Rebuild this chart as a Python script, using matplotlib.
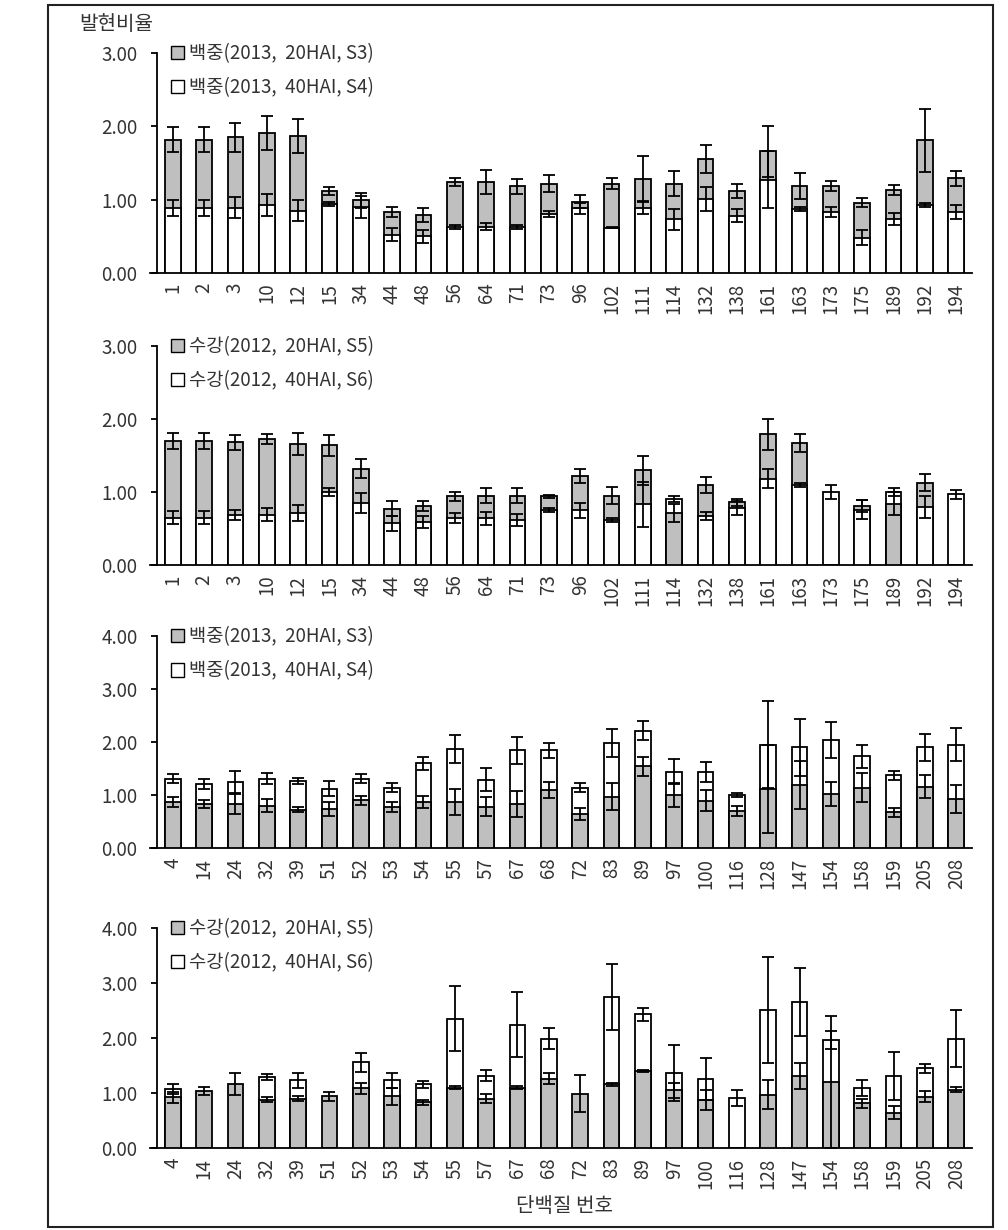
import numpy as np
import matplotlib
matplotlib.use('Agg')
import matplotlib.pyplot as plt
from matplotlib.patches import Patch, Rectangle

plt.rcParams['font.family'] = ['Noto Sans CJK KR', 'DejaVu Sans']
plt.rcParams['axes.unicode_minus'] = False

# =============================================================================
# DATI
# =============================================================================
# Pannelli 1-2: proteine sovra-espresse
cats_a = ['1', '2', '3', '10', '12', '15', '34', '44', '48', '56', '64', '71', '73',
          '96', '102', '111', '114', '132', '138', '161', '163', '173', '175', '189',
          '192', '194']
# Pannelli 3-4: proteine sotto-espresse
cats_b = ['4', '14', '24', '32', '39', '51', '52', '53', '54', '55', '57', '67', '68',
          '72', '83', '89', '97', '100', '116', '128', '147', '154', '158', '159',
          '205', '208']

# Pannello 1: 백중 2013 (S3 = 20HAI, S4 = 40HAI)
p1_s3 = [1.82, 1.82, 1.85, 1.91, 1.87, 1.12, 0.99, 0.83, 0.79, 1.24, 1.24, 1.18, 1.22,
         0.97, 1.22, 1.28, 1.22, 1.56, 1.12, 1.66, 1.19, 1.19, 0.96, 1.13, 1.81, 1.29]
p1_s3_err = [0.17, 0.17, 0.20, 0.23, 0.23, 0.05, 0.10, 0.07, 0.09, 0.05, 0.16, 0.10, 0.12,
             0.09, 0.07, 0.31, 0.17, 0.19, 0.10, 0.35, 0.18, 0.07, 0.06, 0.07, 0.43, 0.10]
p1_s4 = [0.89, 0.89, 0.89, 0.93, 0.85, 0.94, 0.90, 0.52, 0.50, 0.63, 0.63, 0.63, 0.81,
         0.88, 0.62, 0.89, 0.73, 1.01, 0.78, 1.27, 0.87, 0.83, 0.48, 0.74, 0.93, 0.83]
p1_s4_err = [0.11, 0.11, 0.14, 0.15, 0.14, 0.03, 0.15, 0.09, 0.09, 0.03, 0.05, 0.03, 0.04,
             0.08, 0.01, 0.09, 0.14, 0.16, 0.09, 0.39, 0.03, 0.07, 0.10, 0.08, 0.03, 0.10]

# Pannello 2: 수강 2012 (S5 = 20HAI, S6 = 40HAI)
p2_s5 = [1.70, 1.70, 1.68, 1.73, 1.66, 1.64, 1.32, 0.77, 0.81, 0.94, 0.95, 0.95, 0.94,
         1.22, 0.95, 1.30, 0.71, 1.10, 0.86, 1.79, 1.67, 0.0, 0.81, 0.84, 1.13, 0.0]
p2_s5_err = [0.11, 0.11, 0.10, 0.07, 0.15, 0.14, 0.13, 0.10, 0.07, 0.06, 0.10, 0.10, 0.02,
             0.10, 0.12, 0.20, 0.12, 0.11, 0.05, 0.21, 0.12, 0.0, 0.08, 0.16, 0.12, 0.0]
p2_s6 = [0.65, 0.65, 0.69, 0.69, 0.71, 1.00, 0.85, 0.57, 0.59, 0.64, 0.64, 0.62, 0.75,
         0.75, 0.62, 0.83, 0.90, 0.67, 0.78, 1.18, 1.10, 1.00, 0.76, 1.00, 0.79, 0.97]
p2_s6_err = [0.09, 0.09, 0.07, 0.09, 0.11, 0.05, 0.14, 0.10, 0.08, 0.07, 0.09, 0.08, 0.03,
             0.10, 0.03, 0.31, 0.04, 0.06, 0.09, 0.13, 0.03, 0.10, 0.13, 0.05, 0.15, 0.06]

# Pannello 3: 백중 2013
p3_s3 = [0.87, 0.83, 0.83, 0.80, 0.72, 0.74, 0.90, 0.77, 0.87, 0.87, 0.78, 0.83, 1.09,
         0.64, 0.97, 1.54, 1.00, 0.89, 0.70, 1.11, 1.19, 1.02, 1.14, 0.67, 1.16, 0.92]
p3_s3_err = [0.10, 0.08, 0.18, 0.13, 0.05, 0.13, 0.08, 0.09, 0.11, 0.25, 0.18, 0.25, 0.15,
             0.11, 0.26, 0.18, 0.23, 0.20, 0.10, 0.83, 0.46, 0.22, 0.28, 0.09, 0.21, 0.26]
p3_s4 = [1.31, 1.21, 1.24, 1.31, 1.26, 1.12, 1.31, 1.14, 1.60, 1.87, 1.29, 1.84, 1.84,
         1.14, 1.98, 2.21, 1.44, 1.44, 1.00, 1.95, 1.90, 2.04, 1.73, 1.37, 1.90, 1.95]
p3_s4_err = [0.09, 0.09, 0.21, 0.10, 0.06, 0.14, 0.08, 0.08, 0.12, 0.26, 0.22, 0.25, 0.15,
             0.09, 0.26, 0.18, 0.24, 0.19, 0.04, 0.82, 0.54, 0.34, 0.22, 0.08, 0.25, 0.31]

# Pannello 4: 수강 2012
p4_s5 = [0.92, 1.04, 1.16, 0.88, 0.90, 0.94, 1.09, 0.94, 0.83, 1.10, 0.90, 1.10, 1.26,
         0.99, 1.16, 1.40, 1.05, 0.88, 0.0, 0.97, 1.31, 1.20, 0.81, 0.64, 0.93, 1.06]
p4_s5_err = [0.10, 0.07, 0.20, 0.05, 0.05, 0.08, 0.10, 0.15, 0.05, 0.03, 0.09, 0.03, 0.10,
             0.33, 0.03, 0.01, 0.14, 0.18, 0.0, 0.26, 0.24, 1.20, 0.09, 0.12, 0.10, 0.05]
p4_s6 = [1.07, 0.0, 0.0, 1.29, 1.23, 0.0, 1.56, 1.23, 1.16, 2.35, 1.31, 2.24, 1.99,
         0.0, 2.75, 2.43, 1.37, 1.26, 0.91, 2.51, 2.66, 1.96, 1.09, 1.31, 1.45, 1.99]
p4_s6_err = [0.09, 0.0, 0.0, 0.05, 0.13, 0.0, 0.17, 0.13, 0.06, 0.59, 0.10, 0.59, 0.19,
             0.0, 0.60, 0.12, 0.51, 0.38, 0.15, 0.96, 0.62, 0.16, 0.14, 0.43, 0.08, 0.52]

labels_bj = ['백중(2013,  20HAI, S3)', '백중(2013,  40HAI, S4)']
labels_sg = ['수강(2012,  20HAI, S5)', '수강(2012,  40HAI, S6)']

GRAY = '#bfbfbf'
WHITE = '#ffffff'
TXT = '#333333'
FS = 13.5


def draw_panel(ax, cats, gray, gray_err, white, white_err, ymax, labels):
    x = np.arange(len(cats))
    g = np.array(gray)
    w = np.array(white)
    ge = np.array(gray_err)
    we = np.array(white_err)
    g_front = g <= w
    kw = dict(width=0.5, edgecolor='black', linewidth=1.3)

    # la barra più alta sta dietro, la più bassa davanti
    ax.bar(x[~g_front], g[~g_front], color=GRAY, zorder=2, **kw)
    ax.bar(x[g_front], w[g_front], color=WHITE, zorder=2, **kw)
    ax.bar(x[g_front], g[g_front], color=GRAY, zorder=3, **kw)
    ax.bar(x[~g_front], w[~g_front], color=WHITE, zorder=3, **kw)

    ek = dict(fmt='none', ecolor='black', elinewidth=1.3, capsize=4.5,
              capthick=1.3, zorder=4)
    mg = g > 0
    mw = w > 0
    ax.errorbar(x[mg], g[mg], yerr=ge[mg], **ek)
    ax.errorbar(x[mw], w[mw], yerr=we[mw], **ek)

    ax.set_xlim(-0.5, len(cats) - 0.5)
    ax.set_ylim(0, ymax)
    ax.set_yticks(np.arange(0, ymax + 0.5, 1.0))
    ax.set_yticklabels([f'{v:.2f}' for v in np.arange(0, ymax + 0.5, 1.0)])
    ax.set_xticks(x)
    ax.set_xticklabels(cats, rotation=90)

    for s in ['top', 'right']:
        ax.spines[s].set_visible(False)
    for s in ['left', 'bottom']:
        ax.spines[s].set_linewidth(1.3)
        ax.spines[s].set_color('black')
    ax.tick_params(axis='y', length=4, width=1.3, pad=10, labelsize=FS,
                   labelcolor=TXT)
    ax.tick_params(axis='x', length=0, pad=7, labelsize=FS, labelcolor=TXT)
    ax.spines['bottom'].set_bounds(-0.72, len(cats) - 0.5)

    handles = [Patch(facecolor=GRAY, edgecolor='black', linewidth=1.0),
               Patch(facecolor=WHITE, edgecolor='black', linewidth=1.0)]
    ax.legend(handles, labels, loc='upper left', bbox_to_anchor=(0.017, 1.045),
              frameon=False, fontsize=FS, handlelength=0.7, handleheight=0.7,
              handletextpad=0.25, labelspacing=0.7, borderaxespad=0, borderpad=0,
              labelcolor=TXT)


fig = plt.figure(figsize=(10.08, 12.30), dpi=100)

W, H = 1008, 1230
left = 157 / W
width = (972 - 157) / W
panels = [
    (53, 273, cats_a, p1_s3, p1_s3_err, p1_s4, p1_s4_err, 3, labels_bj),
    (346, 565, cats_a, p2_s5, p2_s5_err, p2_s6, p2_s6_err, 3, labels_sg),
    (636, 848, cats_b, p3_s3, p3_s3_err, p3_s4, p3_s4_err, 4, labels_bj),
    (928, 1148, cats_b, p4_s5, p4_s5_err, p4_s6, p4_s6_err, 4, labels_sg),
]
for top, bot, cats, g, ge, w, we, ymax, labels in panels:
    ax = fig.add_axes([left, 1 - bot / H, width, (bot - top) / H])
    draw_panel(ax, cats, g, ge, w, we, ymax, labels)

# cornice esterna
fig.patches.append(Rectangle((48 / W, 1 - 1227 / H), (993 - 48) / W, (1227 - 5) / H,
                             transform=fig.transFigure, fill=False,
                             edgecolor='#222222', linewidth=1.5))

fig.text(116 / W, 1 - 25 / H, '발현비율', ha='center', va='center',
         fontsize=14.5, color=TXT)
fig.text(565 / W, 1 - 1207 / H, '단백질 번호', ha='center', va='center',
         fontsize=14.5, color=TXT)

fig.savefig('out.png', dpi=100)
